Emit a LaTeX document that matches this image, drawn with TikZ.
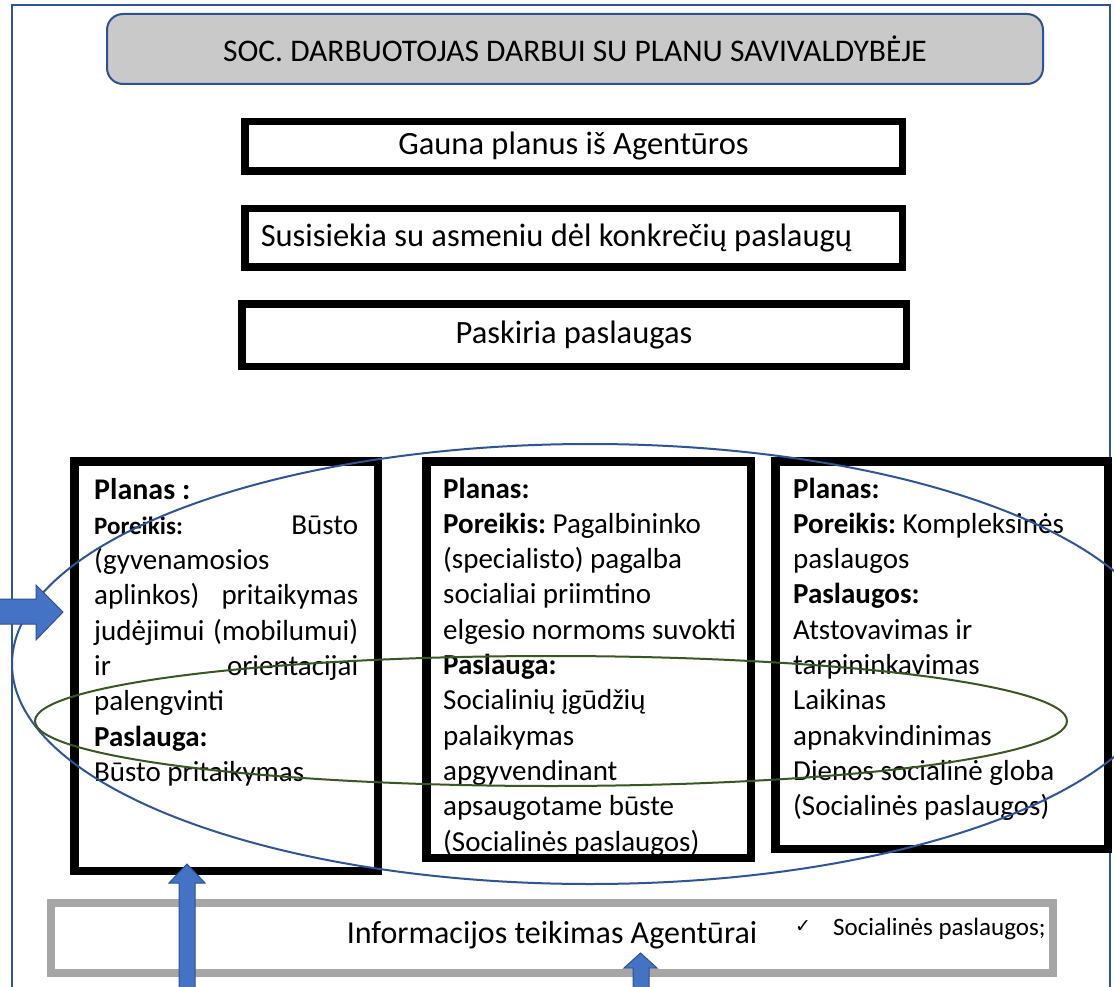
\documentclass[tikz,border=0pt]{standalone}
\usepackage{fontspec}
\setmainfont{Carlito}
\newfontfamily\dejavu{DejaVu Sans}
\frenchspacing
\definecolor{frameblue}{HTML}{2F5597}
\definecolor{fillblue}{HTML}{4472C4}
\definecolor{edgeblue}{HTML}{2F528F}
\definecolor{ellgreen}{HTML}{385723}
\definecolor{titlegray}{HTML}{C9C9C9}
\definecolor{boxgray}{HTML}{A6A6A6}
\begin{document}
\begin{tikzpicture}[x=1pt,y=-1pt,
  frame/.style={draw=frameblue, line width=2pt},
  titlebox/.style={draw=edgeblue, fill=titlegray, line width=2pt, rounded corners=16pt,
    minimum width=936pt, minimum height=70pt, inner sep=0pt, font=\fontsize{31.5}{36}\selectfont},
  stepbox/.style={draw=black, line width=7.5pt, fill=white, inner sep=0pt, font=\fontsize{32.5}{38}\selectfont},
  planbox/.style={draw=black, line width=8.5pt, fill=white, inner sep=0pt},
  plantext/.style={inner sep=0pt, anchor=base west, font=\fontsize{29}{35.3}\selectfont, align=flush left},
  infobox/.style={draw=boxgray, line width=8pt, fill=white, minimum width=1002pt, minimum height=70pt, inner sep=0pt},
  blueell/.style={draw=frameblue, line width=2pt},
  greenell/.style={draw=ellgreen, line width=2pt},
  blockarrow/.style={fill=fillblue, draw=edgeblue, line width=1pt, line join=miter}
]
\useasboundingbox (0,0) rectangle (1114,987);
\clip (0,0) rectangle (1114,987);
\fill[white] (0,0) rectangle (1114,987);
% outer frame
\draw[frame] (12,5) rectangle (1110,1010);
% title
\node[titlebox] (title) at (575,49) {SOC. DARBUOTOJAS DARBUI SU PLANU SAVIVALDYBĖJE};
% step boxes
\node[stepbox, minimum width=657.5pt, minimum height=49.5pt] (s1) at (573.5,146.5) {Gauna planus iš Agentūros};
\node[stepbox, minimum width=657.5pt, minimum height=58.5pt, text width=625.5pt, inner xsep=16pt, align=flush left] (s2) at (573.5,238) {Susisiekia su asmeniu dėl konkrečių paslaugų};
\node[stepbox, minimum width=664.5pt, minimum height=62.5pt] (s3) at (574,335) {Paskiria paslaugas};
% plan boxes
\node[planbox, minimum width=303.5pt, minimum height=409.5pt] (p1) at (226,666) {};
\node[planbox, minimum width=324.5pt, minimum height=396.5pt] (p2) at (588.5,659.5) {};
\node[planbox, minimum width=332.5pt, minimum height=387.5pt] (p3) at (941.5,655) {};
\node[plantext, text width=264pt] (t1) at (94,499) {%
{\fontsize{30}{35}\selectfont\bfseries Planas :}\\
{\fontsize{25}{35}\selectfont\bfseries Poreikis:}\hfill Būsto\\
(gyvenamosios\\
aplinkos)\hfill pritaikymas\\
judėjimui\hfill (mobilumui)\\
ir\hfill orientacijai\\
palengvinti\\
\textbf{Paslauga:}\\
Būsto pritaikymas};
\node[plantext, text width=300pt] (t2) at (443,498) {%
\textbf{Planas:}\\
\textbf{Poreikis:} Pagalbininko\\
(specialisto) pagalba\\
socialiai priimtino\\
elgesio normoms suvokti\\
\textbf{Paslauga:}\\
Socialinių įgūdžių\\
palaikymas\\
apgyvendinant\\
apsaugotame būste\\
(Socialinės paslaugos)};
\node[plantext, text width=310pt] (t3) at (793,498) {%
\textbf{Planas:}\\
\textbf{Poreikis:} Kompleksinės\\
paslaugos\\
\textbf{Paslaugos:}\\
Atstovavimas ir\\
tarpininkavimas\\
Laikinas\\
apnakvindinimas\\
Dienos socialinė globa\\
(Socialinės paslaugos)};
% info box
\node[infobox] (info) at (552,938) {};
\node[inner sep=0pt, anchor=base, font=\fontsize{32}{36}\selectfont] (infotext) at (552,943) {Informacijos teikimas Agentūrai};
\node[inner sep=0pt, anchor=base west, font=\dejavu\fontsize{19}{22}\selectfont] (check) at (795,932) {✓};
\node[inner sep=0pt, anchor=base west, font=\fontsize{25}{28}\selectfont] (infoitem) at (833,935) {Socialinės paslaugos;};
% ellipses
\draw[blueell] (590,664) ellipse [x radius=578, y radius=220];
\draw[greenell] (551,721) ellipse [x radius=516, y radius=65];
% block arrows
\draw[blockarrow] (-5,599) -- (36,599) -- (36,585) -- (63,612) -- (36,640) -- (36,624) -- (-5,624) -- cycle;
\draw[blockarrow] (179,995) -- (179,883) -- (169,883) -- (187,864) -- (205,883) -- (195,883) -- (195,995) -- cycle;
\draw[blockarrow] (633,995) -- (633,968) -- (624,968) -- (640.5,953) -- (657,968) -- (649,968) -- (649,995) -- cycle;
\end{tikzpicture}
\end{document}
